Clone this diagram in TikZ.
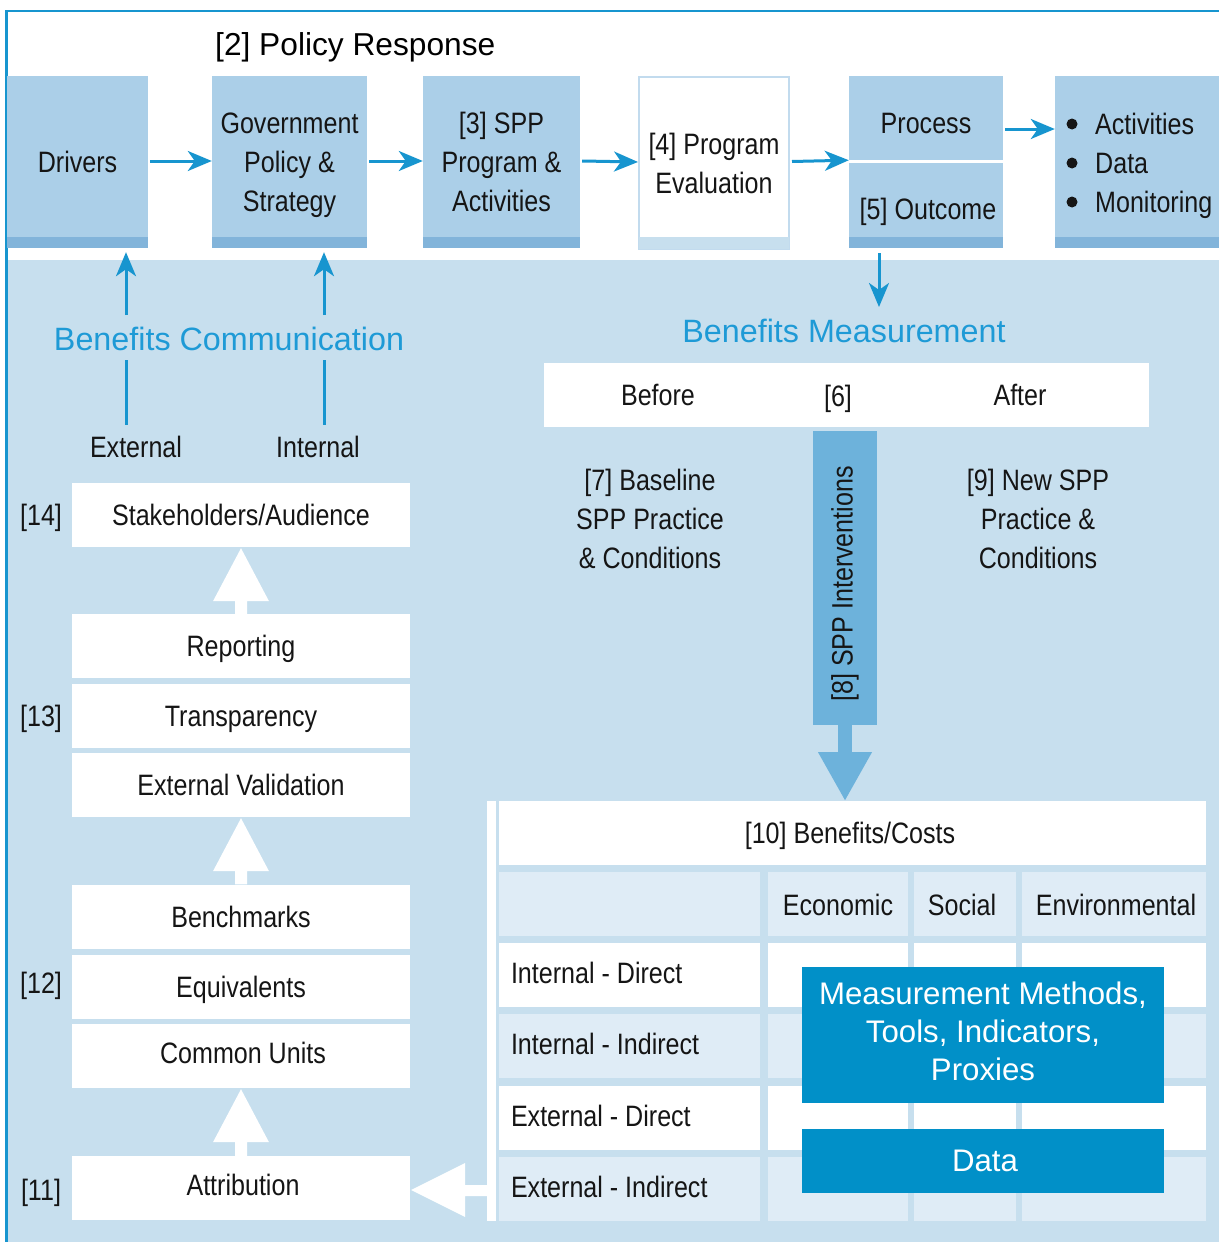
\documentclass[tikz,border=0pt]{standalone}
\usepackage{fontspec}
\setmainfont{Liberation Sans}[FakeStretch=0.85]
\newfontfamily\widefont{Liberation Sans}
\usetikzlibrary{arrows.meta,calc}

\definecolor{rule}{HTML}{1795CF}
\definecolor{boxblue}{HTML}{ABCFE8}
\definecolor{stripe}{HTML}{82B4DA}
\definecolor{panel}{HTML}{C7DFEE}
\definecolor{cellpale}{HTML}{DFECF6}
\definecolor{spparrow}{HTML}{6DB2DB}
\definecolor{deepblue}{HTML}{0190C8}
\definecolor{titlecyan}{HTML}{1E9AD6}
\definecolor{evalline}{HTML}{C2DBEE}
\definecolor{ink}{HTML}{151515}

\tikzset{
  txt/.style={font=\fontsize{29.5}{39}\selectfont, text=ink, align=center, inner sep=0pt},
  oneline/.style={txt, text height=21pt, text depth=0pt},
  heading/.style={font=\widefont\fontsize{32.3}{38}\selectfont, inner sep=0pt},
  topbox/.style={txt, fill=boxblue, minimum height=172pt},
  whitebox/.style={oneline, fill=white, minimum width=338pt, minimum height=64pt},
  bluebox/.style={inner sep=0pt, fill=deepblue, minimum width=362pt},
  bluetext/.style={font=\widefont\fontsize{31.2}{38}\selectfont, text=white, align=center, inner sep=0pt},
  flow/.style={draw=rule, line width=3pt, -{Stealth[length=24pt,width=20pt,inset=7pt]}},
  plain/.style={draw=rule, line width=3pt},
  cell/.style={oneline, minimum height=64pt},
  dot/.style={circle, fill=ink, inner sep=0pt, minimum size=11pt}
}

\begin{document}
\begin{tikzpicture}[x=1pt,y=-1pt]
\useasboundingbox (0,0) rectangle (1219,1242);
\fill[white] (0,0) rectangle (1219,1242);
% lower light panel and frame
\fill[panel] (7,260) rectangle (1219,1242);
\draw[rule,line width=2.5pt] (6.5,1242) -- (6.5,11) -- (1219,11);

% ---------- policy response row ----------
\node[heading, font=\widefont\fontsize{31.7}{38}\selectfont, anchor=base west] (policy) at (215,55) {[2] Policy Response};

\node[topbox, minimum width=141pt] (drivers) at (77.5,162) {Drivers};
\node[topbox, minimum width=155pt, text depth=0pt] (gov) at (289.5,162) {Government\\Policy \&\\Strategy};
\node[topbox, minimum width=157pt] (spp) at (501.5,162) {[3] SPP\\Program \&\\Activities};
\node[txt, fill=white, draw=evalline, line width=2pt, minimum width=150pt,
      minimum height=172pt] (eval) at (714,163) {[4] Program\\Evaluation};
\node[topbox, minimum width=154pt, minimum height=84pt] (process) at (926,118) {};
\node[topbox, minimum width=154pt, minimum height=85pt] (outcome) at (926,205.5) {};
\node[oneline] (proctext) at (926,123) {Process};
\node[oneline] (outtext) at (928,209) {[5] Outcome};
\node[topbox, minimum width=164pt] (bullets) at (1137,162) {};
\node[txt, align=left, anchor=west, text depth=0pt] (bulletlist) at (1095,163)
  {Activities\\Data\\Monitoring};
\node[dot] (dot1) at (1072,124) {};
\node[dot] (dot2) at (1072,163) {};
\node[dot] (dot3) at (1072,202) {};

\foreach \b in {drivers,gov,spp,outcome,bullets}
  \fill[stripe] ($(\b.south west)+(0,-11)$) rectangle (\b.south east);
\fill[panel] ($(eval.south west)+(1,-13)$) rectangle ($(eval.south east)+(-1,-1)$);

\draw[flow] ($(drivers.east)+(2,-1)$) -- ($(gov.west)+(0,-1)$);
\draw[flow] ($(gov.east)+(2,-1)$) -- ($(spp.west)+(0,-1)$);
\draw[flow] ($(spp.east)+(2,-1)$) -- ($(eval.west)+(0,-1)$);
\draw[flow] ($(eval.east)+(2,-1.5)$) -- (process.south west);
\draw[flow] ($(process.east)+(2,11)$) -- ($(bullets.west)+(0,-33)$);

% ---------- benefits communication ----------
\node[heading, text=titlecyan, anchor=base] (bcomm) at (229,350) {Benefits Communication};
\coordinate (commL) at (126,315);
\coordinate (commR) at (324,315);
\coordinate (commLlow) at (126,360);
\coordinate (commRlow) at (324,360);
\coordinate (extTop) at (126,425);
\coordinate (intTop) at (324,425);
\draw[flow, shorten >=4pt] (commL) -- (commL |- drivers.south);
\draw[flow, shorten >=4pt] (commR) -- (commR |- gov.south);
\draw[plain] (commLlow) -- (extTop);
\draw[plain] (commRlow) -- (intTop);
\node[oneline] (external) at (136,447) {External};
\node[oneline] (internal) at (318,447) {Internal};

% ---------- left column ----------
\node[whitebox] (stake) at (241,515) {Stakeholders/Audience};
\node[whitebox] (reporting) at (241,646) {Reporting};
\node[whitebox] (transp) at (241,715.5) {Transparency};
\node[whitebox] (extval) at (241,785) {External Validation};
\node[whitebox] (bench) at (241,916.5) {Benchmarks};
\node[whitebox] (equiv) at (241,986.5) {Equivalents};
\node[whitebox] (units) at (241,1056) {};
\node[oneline] (unitstext) at (243,1053) {Common Units};
\node[whitebox] (attrib) at (241,1188) {};
\node[oneline] (attribtext) at (243,1185) {Attribution};

\node[oneline] (l14) at (41,515) {[14]};
\node[oneline] (l13) at (41,716) {[13]};
\node[oneline] (l12) at (41,983) {[12]};
\node[oneline] (l11) at (41,1190) {[11]};

% hollow block arrows pointing up
\foreach \a/\b in {reporting/stake, bench/extval, attrib/units}
  \fill[white] ($(\a.north)+(-6,0)$) -- ($(\b.south)+(-6,54)$) -- ($(\b.south)+(-28,54)$)
    -- ($(\b.south)+(0,1)$) -- ($(\b.south)+(28,54)$) -- ($(\b.south)+(6,54)$)
    -- ($(\a.north)+(6,0)$) -- cycle;

% ---------- benefits measurement ----------
\coordinate (measFrom) at (879,253);
\coordinate (measTo) at (879,307);
\draw[flow] (measFrom) -- (measTo);
\node[heading, text=titlecyan, anchor=base] (bmeas) at (844,342) {Benefits Measurement};

\node[txt, fill=white, minimum width=605pt, minimum height=64pt] (bar) at (846.5,395) {};
\node[oneline] (before) at (658,395) {Before};
\node[oneline] (six) at (838,396) {[6]};
\node[oneline] (after) at (1020,395) {After};

\node[txt] (baseline) at (650,519) {[7] Baseline\\SPP Practice\\\& Conditions};
\node[txt] (newspp) at (1038,519) {[9] New SPP\\Practice \&\\Conditions};

\node[fill=spparrow, inner sep=0pt, minimum width=64pt, minimum height=294pt] (interv) at (845,578) {};
\node[txt, rotate=90] (intervtext) at (845,584) {[8] SPP Interventions};
\fill[spparrow] ($(interv.south)+(-7,-1)$) rectangle ($(interv.south)+(7,27)$);
\fill[spparrow] ($(interv.south)+(-27,27)$) -- ($(interv.south)+(27,27)$) -- ($(interv.south)+(0,75)$) -- cycle;

% ---------- benefits / costs table ----------
\fill[white] (487,801) rectangle (496,1221);
\node[cell, fill=white, minimum width=707pt] (hdr) at (852.5,833) {};
\node[oneline] (hdrtext) at (850,833) {[10] Benefits/Costs};
\foreach \r/\t/\f in {1/872/cellpale, 2/943/white, 3/1014/cellpale, 4/1086/white, 5/1157/cellpale}
  \foreach \c/\l/\rr in {0/499/760, 1/768/908, 2/914/1016, 3/1022/1206}
    \node[cell, fill=\f, minimum width={\rr pt-\l pt}] (cell-\r-\c) at ({(\l+\rr)/2},{\t+32}) {};

\node[oneline] (econ) at ($(cell-1-1)+(0,1)$) {Economic};
\node[oneline] (social) at ($(cell-1-2)+(-3,1)$) {Social};
\node[oneline] (env) at ($(cell-1-3)+(2,1)$) {Environmental};
\node[oneline, anchor=west] (intdir) at ($(cell-2-0.west)+(12,-2)$) {Internal - Direct};
\node[oneline, anchor=west] (intind) at ($(cell-3-0.west)+(12,-2)$) {Internal - Indirect};
\node[oneline, anchor=west] (extdir) at ($(cell-4-0.west)+(12,-2)$) {External - Direct};
\node[oneline, anchor=west] (extind) at ($(cell-5-0.west)+(12,-2)$) {External - Indirect};

\node[bluebox, minimum height=136pt] (methods) at (983,1035) {};
\node[bluetext] (methodstext) at (983,1031) {Measurement Methods,\\Tools, Indicators,\\Proxies};
\node[bluebox, minimum height=64pt] (data) at (983,1161) {};
\node[bluetext, text height=22pt, text depth=0pt] (datatext) at (985,1160) {Data};

% block arrow from the table back to attribution
\coordinate (attribTip) at ($(attrib.east)+(1,2)$);
\fill[white] (attribTip) -- ($(attribTip)+(54,-27)$) -- ($(attribTip)+(54,-5)$)
  -- ($(attribTip)+(77,-5)$) -- ($(attribTip)+(77,6)$) -- ($(attribTip)+(54,6)$)
  -- ($(attribTip)+(54,27)$) -- cycle;
\end{tikzpicture}
\end{document}
